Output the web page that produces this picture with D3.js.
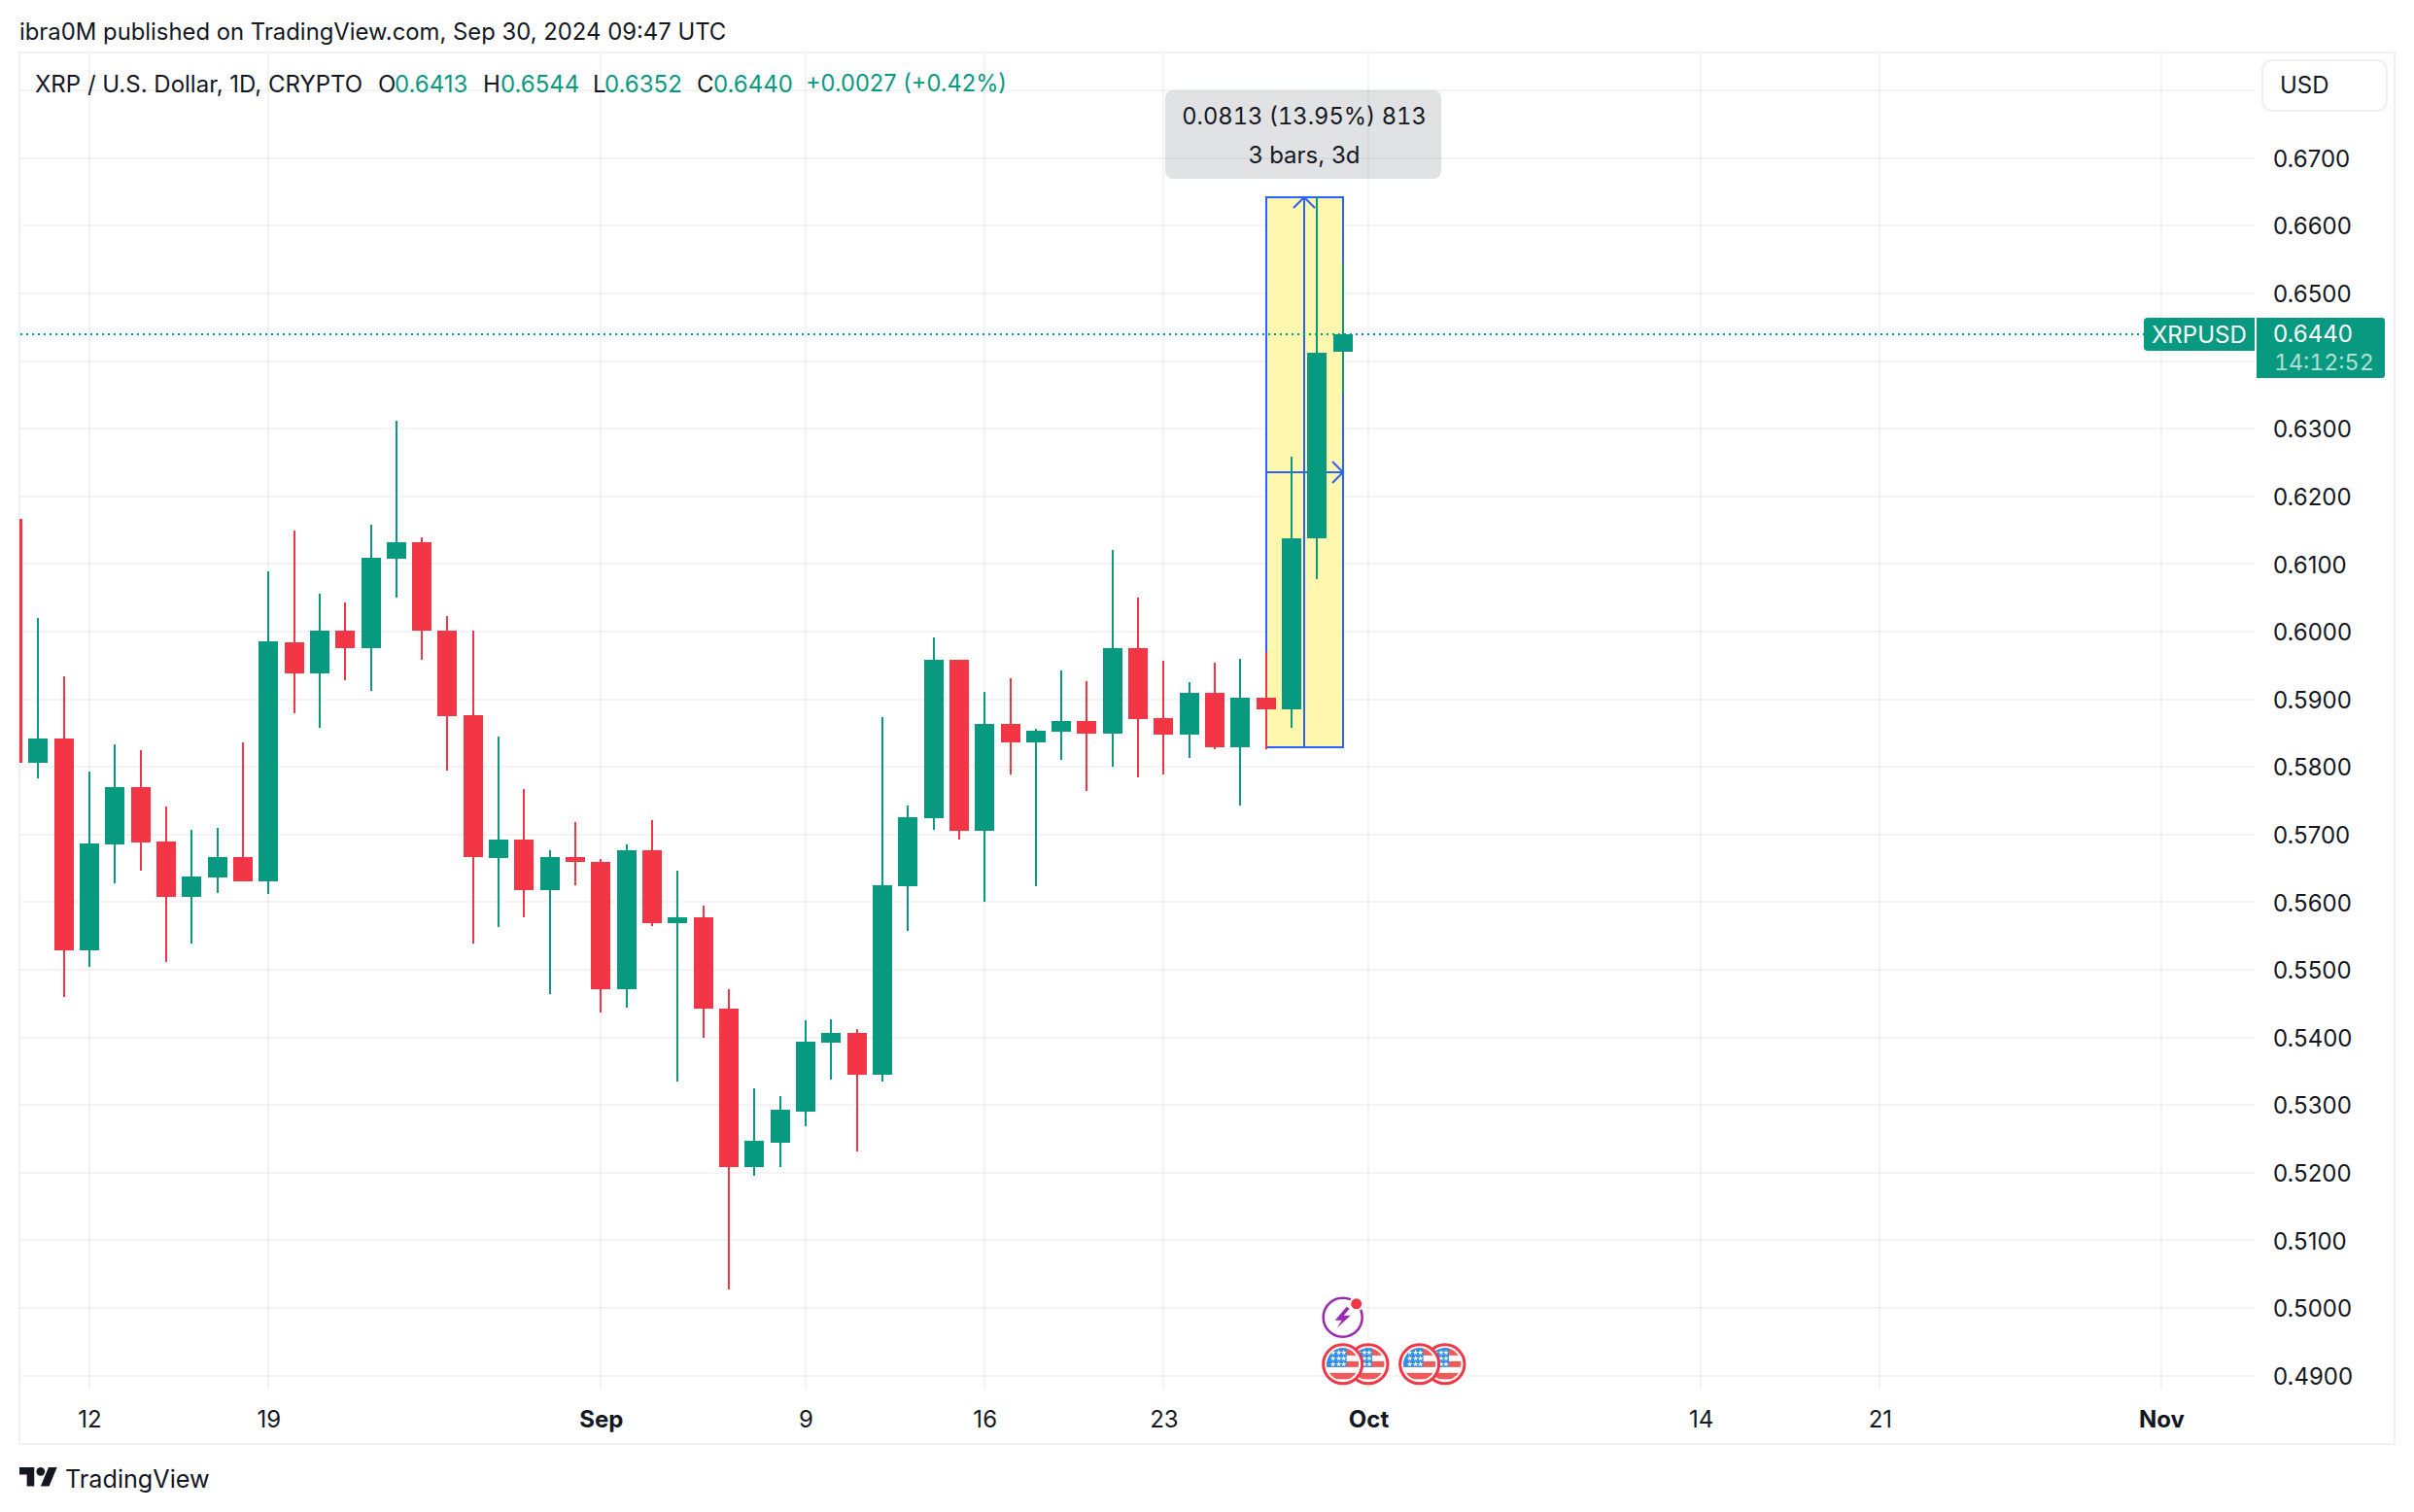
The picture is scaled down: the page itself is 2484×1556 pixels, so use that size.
<!DOCTYPE html>
<html><head><meta charset="utf-8">
<script src="https://cdn.jsdelivr.net/npm/d3@7/dist/d3.min.js"></script>
<style>html,body{margin:0;padding:0;background:#fff}svg{display:block;font-family:Inter,sans-serif}.tn{font-feature-settings:"tnum" 1;font-variant-numeric:tabular-nums}</style>
</head><body><div id="chart"></div>
<script>
const firstDay = "2024-08-09";
const opens = [.6166,.5806,.5842,.5529,.5685,.5770,.5689,.5608,.5636,.5667,.5631,.5984,.5938,.6001,.5976,.6107,.6132,.6002,.5876,.5665,.5693,.5618,.5667,.5659,.5471,.5677,.5569,.5578,.5443,.5208,.5245,.5291,.5393,.5407,.5345,.5624,.5724,.5958,.5706,.5864,.5836,.5852,.5868,.5849,.5976,.5872,.5847,.5910,.5829,.5902,.5885,.6138,.6413];
const highs = [.6166,.6020,.5934,.5793,.5833,.5824,.5741,.5707,.5710,.5836,.6089,.6149,.6056,.6043,.6158,.6311,.6140,.6023,.6002,.5845,.5767,.5677,.5719,.5664,.5685,.5721,.5646,.5595,.5471,.5325,.5314,.5426,.5427,.5412,.5873,.5743,.5992,.5958,.5911,.5931,.5857,.5942,.5927,.6120,.6050,.5957,.5925,.5954,.5960,.5970,.6259,.6644,.6544];
const lows = [.5806,.5783,.5460,.5504,.5628,.5646,.5511,.5539,.5614,.5631,.5612,.5879,.5858,.5928,.5912,.6050,.5958,.5795,.5539,.5563,.5578,.5464,.5625,.5437,.5444,.5565,.5335,.5400,.5027,.5196,.5209,.5269,.5338,.5232,.5335,.5558,.5707,.5693,.5600,.5789,.5624,.5810,.5764,.5800,.5784,.5789,.5813,.5826,.5743,.5826,.5858,.6078,.6352];
const closes = [.5806,.5842,.5529,.5687,.5770,.5688,.5608,.5638,.5667,.5631,.5985,.5938,.6001,.5976,.6109,.6132,.6001,.5875,.5667,.5693,.5618,.5667,.5659,.5471,.5677,.5569,.5578,.5442,.5208,.5247,.5293,.5394,.5407,.5345,.5625,.5726,.5958,.5706,.5864,.5836,.5854,.5868,.5849,.5976,.5871,.5847,.5910,.5829,.5902,.5885,.6138,.6412,.6440];

const priceTicks = [.49,.50,.51,.52,.53,.54,.55,.56,.57,.58,.59,.60,.61,.62,.63,.64,.65,.66,.67];
const gridExtraPrice = .68;
const timeTickDates = ["2024-08-12","2024-08-19","2024-09-01","2024-09-09","2024-09-16","2024-09-23","2024-10-01","2024-10-14","2024-10-21","2024-11-01"];
const timeTickLabels = ["12","19","Sep","9","16","23","Oct","14","21","Nov"];
const boldLabels = ["Sep","Oct","Nov"];

const measureDates = ["2024-09-27","2024-09-30"];
const measurePrices = [.5829,.6642];
const lastPrice = .6440;
const flagDates = ["2024-10-01","2024-09-30","2024-10-04","2024-10-03"];
const boltDate = "2024-09-30";
const boltPrice = .4986;
const flagPrice = .4917;

const titleText = "ibra0M published on TradingView.com, Sep 30, 2024 09:47 UTC";
const symbolText = "XRP / U.S. Dollar, 1D, CRYPTO";
const ohlcLetters = ["O","H","L","C"];
const ohlcValues = ["0.6413","0.6544","0.6352","0.6440"];
const changeText = "+0.0027 (+0.42%)";
const tooltipLines = ["0.0813 (13.95%) 813","3 bars, 3d"];

const TXT = "#131722", UP = "#089981", DOWN = "#F23645", BLUE = "#2962FF", FRAME = "#F0F0F6", GRID = "rgba(46,46,46,.06)";
const FS = 24;
const W = 2484, H = 1556;
const parse = d3.utcParse("%Y-%m-%d");
const day0 = parse(firstDay);
const bars = opens.map((o,i)=>({date:d3.utcDay.offset(day0,i),o,h:highs[i],l:lows[i],c:closes[i]}));

const x = d3.scaleUtc().domain([parse("2024-08-12"),parse("2024-10-01")]).range([92,1408]);
const y = d3.scaleLinear().domain([.49,.67]).range([1415.7,162.7]);
const X = d => Math.round(x(d)), Y = p => Math.round(y(p));

const svg = d3.select("#chart").append("svg").attr("width",W).attr("height",H).attr("viewBox",`0 0 ${W} ${H}`);
svg.append("defs").append("clipPath").attr("id","plot").append("rect").attr("x",20).attr("y",54).attr("width",2300).attr("height",1376);

svg.append("text").attr("x",20).attr("y",32).attr("dy",".36em").attr("font-size",23.85).attr("fill",TXT).text(titleText);
svg.append("rect").attr("x",20).attr("y",54).attr("width",2444).attr("height",1432).attr("fill","none").attr("stroke",FRAME).attr("stroke-width",2);

const gridG = svg.append("g");
gridG.selectAll("line.h").data(priceTicks.concat([gridExtraPrice])).join("line").attr("class","h")
  .attr("x1",21).attr("x2",2320).attr("y1",d=>Y(d)).attr("y2",d=>Y(d)).attr("stroke",GRID).attr("stroke-width",2);
gridG.selectAll("line.v").data(timeTickDates.map(parse)).join("line").attr("class","v")
  .attr("x1",d=>X(d)).attr("x2",d=>X(d)).attr("y1",55).attr("y2",1430).attr("stroke",GRID).attr("stroke-width",2);

const mx0 = X(parse(measureDates[0])), mx1 = X(parse(measureDates[1]));
const my0 = Y(measurePrices[0]), my1 = Y(measurePrices[1]);
const mxc = Math.floor((mx0+mx1)/2), myc = Math.round((my0+my1)/2);
const m = svg.append("g").attr("fill","none").attr("stroke",BLUE).attr("stroke-width",2);
m.append("rect").attr("x",mx0).attr("y",my1).attr("width",mx1-mx0).attr("height",my0-my1).attr("fill","#FFF7AD");
m.append("line").attr("x1",mxc).attr("x2",mxc).attr("y1",my0).attr("y2",my1);
m.append("line").attr("x1",mx0).attr("x2",mx1).attr("y1",myc).attr("y2",myc);
m.append("path").attr("d",d3.line()([[mxc-11,my1+11],[mxc,my1],[mxc+11,my1+11]]));
m.append("path").attr("d",d3.line()([[mx1-11,myc-11],[mx1,myc],[mx1-11,myc+11]]));

const col = d => d.c>=d.o?UP:DOWN;
const cg = svg.append("g").attr("clip-path","url(#plot)");
cg.selectAll("line").data(bars).join("line")
  .attr("x1",d=>X(d.date)).attr("x2",d=>X(d.date)).attr("y1",d=>Y(d.h)).attr("y2",d=>Y(d.l))
  .attr("stroke",col).attr("stroke-width",2);
cg.selectAll("rect").data(bars).join("rect")
  .attr("x",d=>X(d.date)-10).attr("width",20)
  .attr("y",d=>Y(Math.max(d.o,d.c))).attr("height",d=>Math.abs(Y(d.o)-Y(d.c)))
  .attr("fill",col);

const ly = Y(lastPrice);
svg.append("line").attr("x1",21).attr("x2",2206).attr("y1",ly).attr("y2",ly)
  .attr("stroke",UP).attr("stroke-width",2).attr("stroke-dasharray","2 4");

svg.append("rect").attr("x",1199).attr("y",93).attr("width",284).attr("height",91).attr("rx",8).attr("fill","rgba(120,123,134,.22)");
svg.append("text").attr("class","tn").attr("x",mxc).attr("y",119).attr("dy",".36em").attr("text-anchor","middle").attr("font-size",23.7).attr("fill",TXT).text(tooltipLines[0]);
svg.append("text").attr("x",mxc).attr("y",159).attr("dy",".36em").attr("text-anchor","middle").attr("font-size",FS).attr("fill",TXT).text(tooltipLines[1]);

const yAxis = d3.axisRight(y).tickValues(priceTicks).tickSize(0).tickPadding(0).tickFormat(d3.format(".4f"));
const ya = svg.append("g").attr("transform","translate(2339,0)").call(yAxis);
ya.select(".domain").remove();
ya.selectAll("text").attr("x",0).attr("dy",".36em").attr("font-size",FS).attr("font-family","Inter").attr("fill",TXT);

const labelOf = new Map(timeTickDates.map((d,i)=>[+parse(d),timeTickLabels[i]]));
const xAxis = d3.axisBottom(x).tickValues(timeTickDates.map(parse)).tickSize(0).tickPadding(0).tickFormat(d=>labelOf.get(+d));
const xa = svg.append("g").attr("transform","translate(0,1460)").call(xAxis);
xa.select(".domain").remove();
xa.selectAll("text").attr("y",0).attr("dy",".36em").attr("font-size",FS).attr("font-family","Inter").attr("fill",TXT)
  .attr("font-weight",function(){return boldLabels.includes(this.textContent)?700:400;});

const LY = 86;
svg.append("text").attr("x",36).attr("y",LY).attr("dy",".36em").attr("font-size",FS).attr("fill",TXT).text(symbolText);
const letterX = [389,497,610,717], valueX = [406,515,622,734];
ohlcLetters.forEach((l,i)=>{
  svg.append("text").attr("x",letterX[i]).attr("y",LY).attr("dy",".36em").attr("font-size",FS).attr("fill",TXT).text(l);
  svg.append("text").attr("x",valueX[i]).attr("y",LY).attr("dy",".36em").attr("font-size",FS).attr("fill",UP).text(ohlcValues[i]);
});
svg.append("text").attr("x",829).attr("y",LY).attr("dy",".36em").attr("font-size",23.6).attr("fill",UP).text(changeText);

svg.append("rect").attr("x",2328).attr("y",62).attr("width",128).attr("height",52).attr("rx",10).attr("fill","#fff").attr("stroke",FRAME).attr("stroke-width",2);
svg.append("text").attr("x",2346).attr("y",87).attr("dy",".36em").attr("font-size",FS).attr("fill",TXT).text("USD");

svg.append("path").attr("fill",UP).attr("d",`M2320 ${ly-17}H2210a4 4 0 0 0 -4 4V${ly+13}a4 4 0 0 0 4 4H2320Z`);
svg.append("text").attr("x",2214).attr("y",ly).attr("dy",".36em").attr("font-size",FS).attr("fill","#fff").text("XRPUSD");
svg.append("path").attr("fill",UP).attr("d",`M2322 ${ly-17}H2451a3 3 0 0 1 3 3V${ly+42}a3 3 0 0 1 -3 3H2322Z`);
svg.append("text").attr("x",2339).attr("y",ly-0.5).attr("dy",".36em").attr("font-size",FS).attr("fill","#fff").text(d3.format(".4f")(lastPrice));
svg.append("text").attr("class","tn").attr("x",2340).attr("y",ly+29).attr("dy",".36em").attr("font-size",23.2).attr("fill","rgba(255,255,255,.7)").text("14:12:52");

const flagClip = svg.select("defs").append("clipPath").attr("id","flagClip");
flagClip.append("circle").attr("r",16.5);
const starRows = [-12,-6,0], starCols = [-10,-4,1];
const star = d3.symbol().type(d3.symbolStar).size(11);
flagDates.forEach(ds=>{
  const g = svg.append("g").attr("transform",`translate(${x(parse(ds))},${y(flagPrice)})`);
  g.append("circle").attr("r",20).attr("fill","#fff").attr("stroke",DOWN).attr("stroke-width",3);
  const f = g.append("g").attr("clip-path","url(#flagClip)");
  [[-17,-9],[-3,3],[9,15.5]].forEach(([a,b])=>f.append("rect").attr("x",-17).attr("width",34).attr("y",a).attr("height",b-a).attr("fill","#F25A5A"));
  f.append("rect").attr("x",-17).attr("y",-17).attr("width",21).attr("height",20).attr("fill","#2F8FE8");
  starRows.forEach(r=>starCols.forEach(c=>f.append("path").attr("d",star()).attr("transform",`translate(${c},${r})`).attr("fill","#fff")));
});
const bolt = svg.append("g").attr("transform",`translate(${x(parse(boltDate))},${y(boltPrice)})`);
bolt.append("circle").attr("r",20).attr("fill","#fff").attr("stroke","#9C27B0").attr("stroke-width",2.5);
bolt.append("path").attr("fill","#9C27B0").attr("d","M4 -11 L-8 3 L-1 3 L-6 11 L8 -2 L1 -2 L7 -9 Z");
bolt.append("circle").attr("cx",14).attr("cy",-14).attr("r",6.5).attr("fill",DOWN).attr("stroke","#fff").attr("stroke-width",2);

const logo = svg.append("g").attr("transform","translate(20,1505.6) scale(1.09)").attr("fill",TXT);
logo.append("path").attr("d","M14 22H7V11H0V4h14v18zM28 22h-8l7.5-18h8L28 22z");
logo.append("circle").attr("cx",20).attr("cy",8).attr("r",4);
svg.append("text").attr("x",67).attr("y",1522).attr("dy",".36em").attr("font-size",25.2).attr("fill",TXT).text("TradingView");
</script></body></html>
